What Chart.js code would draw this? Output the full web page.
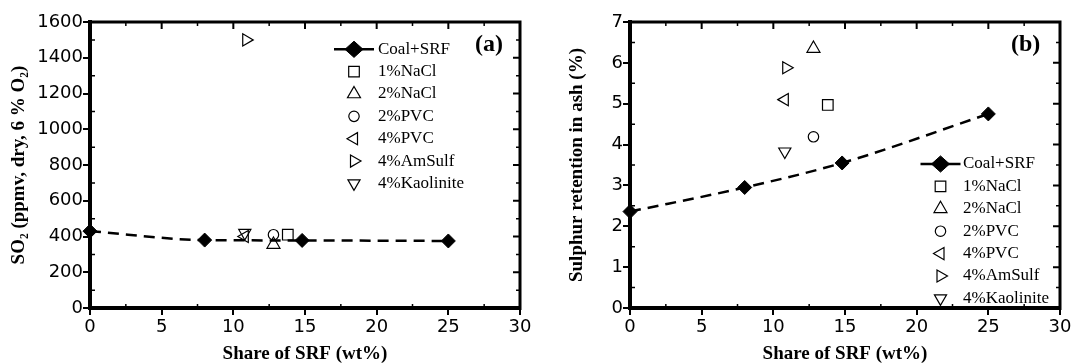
<!DOCTYPE html>
<html>
<head>
<meta charset="utf-8">
<script src="https://cdn.jsdelivr.net/npm/chart.js@4.4.1/dist/chart.umd.min.js"></script>
<style>
  html, body { margin: 0; padding: 0; background: #fff; }
  #wrap { position: relative; width: 1072px; height: 364px; overflow: hidden; }
  canvas { position: absolute; top: 0; }
  #so2 { left: 0; }
  #ret { left: 536px; }
</style>
</head>
<body>
<div id="wrap">
  <canvas id="so2" width="536" height="364"></canvas>
  <canvas id="ret" width="536" height="364"></canvas>
</div>
<script>
// share of SRF (wt%) for the Coal+SRF series
const shareSRF = [0, 8, 14.8, 25];
const so2CoalSRF = [430, 380, 378, 375];
const retentionCoalSRF = [2.36, 2.95, 3.55, 4.75];

// additive tests (same order in both panels)
const additiveLabels = ["1%NaCl", "2%NaCl", "2%PVC", "4%PVC", "4%AmSulf", "4%Kaolinite"];
const additiveShare = [13.8, 12.8, 12.8, 10.8, 10.9, 10.8];
const so2Additive = [410, 355, 410, 400, 1500, 420];
const retentionAdditive = [4.97, 6.35, 4.19, 5.10, 5.88, 3.83];

// axis ranges / tick steps
const xRange = [0, 30, 5];
const so2Range = [0, 1600, 200];
const retentionRange = [0, 7, 1];

// open markers for the additives
const markerStyles = [
    { pointStyle: "rect", rotation: 0, radius: 7.5 },
    { pointStyle: "triangle", rotation: 0, radius: 7.5 },
    { pointStyle: "circle", rotation: 0, radius: 5.2 },
    { pointStyle: "triangle", rotation: -90, radius: 7 },
    { pointStyle: "triangle", rotation: 90, radius: 7 },
    { pointStyle: "triangle", rotation: 180, radius: 7 }
];

const tickFont = { family: "'DejaVu Sans'", size: 18 };
const titleFont = { family: "'Liberation Serif'", size: 19, weight: "bold", lineHeight: 1 };

function buildDatasets(baseY, addY) {
    const sets = [{
        label: "Coal+SRF",
        data: shareSRF.map((x, i) => ({ x: x, y: baseY[i] })),
        showLine: true,
        clip: false,
        borderColor: "#000",
        borderWidth: 2.5,
        borderDash: [11, 7],
        cubicInterpolationMode: "monotone",
        pointStyle: "rectRot",
        pointRadius: 7,
        pointBackgroundColor: "#000",
        pointBorderColor: "#000",
        pointBorderWidth: 1
    }];
    additiveLabels.forEach((name, i) => {
        sets.push({
            label: name,
            data: [{ x: additiveShare[i], y: addY[i] }],
            showLine: false,
            clip: false,
            pointStyle: markerStyles[i].pointStyle,
            pointRotation: markerStyles[i].rotation,
            pointRadius: markerStyles[i].radius,
            pointBackgroundColor: "rgba(0,0,0,0)",
            pointBorderColor: "#000",
            pointBorderWidth: 1.2
        });
    });
    return sets;
}

// same shapes as Chart.js point styles, for the legend
function drawMarker(ctx, style, rotation, x, y, r, fill, lw) {
    let rad = rotation * Math.PI / 180;
    ctx.beginPath();
    if (style === "rectRot") {
        ctx.moveTo(x - r, y); ctx.lineTo(x, y - r * 0.9);
        ctx.lineTo(x + r, y); ctx.lineTo(x, y + r * 0.9);
        ctx.closePath();
    } else if (style === "rect") {
        const s = Math.SQRT1_2 * r;
        ctx.rect(x - s, y - s, 2 * s, 2 * s);
    } else if (style === "circle") {
        ctx.arc(x, y, r, 0, Math.PI * 2);
    } else {
        for (let k = 0; k < 3; k++) {
            const px = x + Math.sin(rad) * r, py = y - Math.cos(rad) * r;
            if (k === 0) ctx.moveTo(px, py); else ctx.lineTo(px, py);
            rad += 2 * Math.PI / 3;
        }
        ctx.closePath();
    }
    ctx.fillStyle = fill;
    ctx.fill();
    ctx.lineWidth = lw;
    ctx.strokeStyle = "#000";
    ctx.stroke();
}

// top and right frame lines with inward ticks, plus minor ticks
const framePlugin = {
    id: "frame",
    afterDraw(chart) {
        const { ctx, chartArea: a, scales } = chart;
        ctx.save();
        ctx.strokeStyle = "#000";
        ctx.lineWidth = 3;
        ctx.beginPath();
        ctx.moveTo(a.left - 2, a.top);
        ctx.lineTo(a.right, a.top);
        ctx.lineTo(a.right, a.bottom + 2);
        ctx.stroke();

        ctx.lineWidth = 2;
        ctx.beginPath();
        scales.x.ticks.forEach(t => {
            const px = scales.x.getPixelForValue(t.value);
            ctx.moveTo(px, a.top); ctx.lineTo(px, a.top + 7);
        });
        scales.y.ticks.forEach(t => {
            const py = scales.y.getPixelForValue(t.value);
            ctx.moveTo(a.right, py); ctx.lineTo(a.right - 7, py);
        });
        ctx.stroke();

        ctx.lineWidth = 1.5;
        ctx.beginPath();
        const xt = scales.x.ticks, yt = scales.y.ticks;
        for (let i = 0; i < xt.length - 1; i++) {
            const px = scales.x.getPixelForValue((xt[i].value + xt[i + 1].value) / 2);
            ctx.moveTo(px, a.top); ctx.lineTo(px, a.top + 4);
            ctx.moveTo(px, a.bottom); ctx.lineTo(px, a.bottom - 4);
        }
        for (let i = 0; i < yt.length - 1; i++) {
            const py = scales.y.getPixelForValue((yt[i].value + yt[i + 1].value) / 2);
            ctx.moveTo(a.left, py); ctx.lineTo(a.left + 5, py);
            ctx.moveTo(a.right, py); ctx.lineTo(a.right - 4, py);
        }
        ctx.stroke();
        ctx.restore();
    }
};

const legendPlugin = {
    id: "sideLegend",
    afterDraw(chart, args, opts) {
        const ctx = chart.ctx;
        ctx.save();
        chart.data.datasets.forEach((ds, i) => {
            const y = opts.top + i * opts.rowHeight;
            if (ds.showLine) {
                ctx.strokeStyle = "#000";
                ctx.lineWidth = 2.5;
                ctx.beginPath();
                ctx.moveTo(opts.symbolX - 20, y);
                ctx.lineTo(opts.symbolX + 20, y);
                ctx.stroke();
                drawMarker(ctx, "rectRot", 0, opts.symbolX, y, 9, "#000", 1);
            } else {
                drawMarker(ctx, ds.pointStyle, ds.pointRotation, opts.symbolX, y, ds.pointRadius, "rgba(0,0,0,0)", 1.2);
            }
            ctx.fillStyle = "#000";
            ctx.font = "17px 'Liberation Serif'";
            ctx.textBaseline = "middle";
            ctx.textAlign = "left";
            ctx.fillText(ds.label, opts.textX, y);
        });
        ctx.font = "bold 24px 'Liberation Serif'";
        ctx.fillText(opts.tag, opts.tagX, opts.tagY);
        ctx.restore();
    }
};

function makeChart(id, baseY, addY, yRange, yTitle, pad, yWidth, legendOpts) {
    return new Chart(document.getElementById(id), {
        type: "scatter",
        data: { datasets: buildDatasets(baseY, addY) },
        options: {
            responsive: false,
            animation: false,
            events: [],
            layout: { padding: pad },
            plugins: {
                legend: { display: false },
                tooltip: { enabled: false },
                sideLegend: legendOpts
            },
            scales: {
                x: {
                    type: "linear",
                    position: "bottom",
                    min: xRange[0],
                    max: xRange[1],
                    ticks: { stepSize: xRange[2], color: "#000", font: tickFont, padding: 2, maxRotation: 0 },
                    grid: { drawOnChartArea: false, drawTicks: true, tickLength: 7, lineWidth: 2, color: "#000" },
                    border: { display: true, width: 4, color: "#000" },
                    title: { display: true, text: "Share of SRF (wt%)", color: "#000", font: titleFont, padding: 0 },
                    afterFit: s => { s.height = 56; s.paddingLeft = 0; s.paddingRight = 0; }
                },
                y: {
                    type: "linear",
                    position: "left",
                    min: yRange[0],
                    max: yRange[1],
                    ticks: { stepSize: yRange[2], color: "#000", font: tickFont, padding: 0, callback: v => String(v) },
                    grid: { drawOnChartArea: false, drawTicks: true, tickLength: 7, lineWidth: 2, color: "#000" },
                    border: { display: true, width: 4, color: "#000" },
                    title: { display: true, text: yTitle, color: "#000", font: titleFont, padding: { top: 10, bottom: 0 } },
                    afterFit: s => { s.width = yWidth; s.paddingTop = 0; s.paddingBottom = 0; }
                }
            }
        },
        plugins: [framePlugin, legendPlugin]
    });
}

makeChart("so2", so2CoalSRF, so2Additive, so2Range, "SO\u2082 (ppmv, dry, 6 % O\u2082)",
    { left: 0, top: 22, right: 16, bottom: 0 }, 90,
    { top: 49.3, rowHeight: 22.35, symbolX: 354, textX: 378, tag: "(a)", tagX: 475, tagY: 45 });

makeChart("ret", retentionCoalSRF, retentionAdditive, retentionRange, "Sulphur retention in ash (%)",
    { left: 22, top: 22, right: 12, bottom: 0 }, 72,
    { top: 164, rowHeight: 22.4, symbolX: 404.5, textX: 427, tag: "(b)", tagX: 475, tagY: 45 });
</script>
</body>
</html>
